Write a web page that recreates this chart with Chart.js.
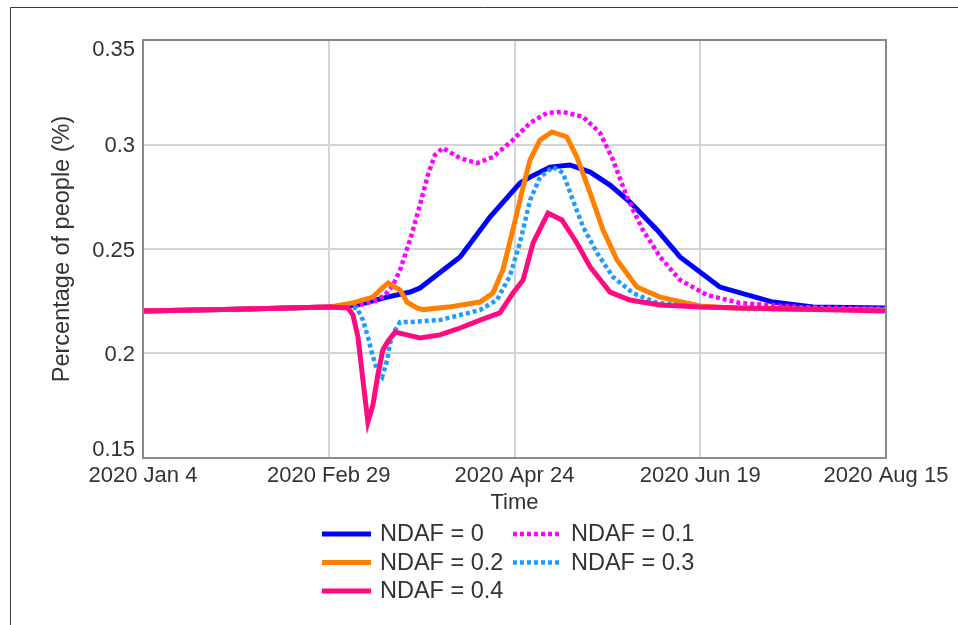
<!DOCTYPE html>
<html><head><meta charset="utf-8">
<script src="https://cdn.jsdelivr.net/npm/chart.js@4.4.1/dist/chart.umd.min.js"></script>
<style>html,body{margin:0;padding:0;background:#fff;}canvas{display:block;}</style>
</head><body>
<canvas id="c" width="958" height="625"></canvas>
<script>
// ---- data ----
const tickDays = [0, 56, 112, 168, 224];
const tickLabels = ['2020 Jan 4', '2020 Feb 29', '2020 Apr 24', '2020 Jun 19', '2020 Aug 15'];
const yTicks = [0.15, 0.2, 0.25, 0.3, 0.35];
const seriesNames = ['NDAF = 0', 'NDAF = 0.1', 'NDAF = 0.2', 'NDAF = 0.3', 'NDAF = 0.4'];

const ndaf0Days = [0, 28, 56, 64.5, 73.6, 80.5, 83.5, 95.6, 104.6, 113.7, 116.7, 122.7, 128.7, 134.8, 140.8, 146.8, 155, 161.9, 173.9, 189.9, 202, 224];
const ndaf0Vals = [0.2203, 0.2212, 0.2222, 0.2232, 0.2270, 0.2294, 0.2313, 0.2462, 0.2653, 0.2816, 0.2844, 0.2892, 0.2902, 0.2868, 0.2806, 0.2725, 0.2591, 0.2462, 0.2318, 0.2246, 0.2222, 0.2218];

const ndaf01Days = [0, 28, 56, 65.4, 69.9, 73.0, 75.4, 77.5, 80.5, 83.5, 85.9, 88.0, 90.4, 95.6, 100.7, 105.5, 111.5, 116.7, 121.8, 126.6, 132.7, 137.8, 141.7, 145.9, 150.7, 155.9, 161.9, 170, 179.9, 198, 224];
const ndaf01Vals = [0.2203, 0.2212, 0.2222, 0.2232, 0.2251, 0.2280, 0.2328, 0.2400, 0.2543, 0.2711, 0.2854, 0.2950, 0.2983, 0.2935, 0.2911, 0.2940, 0.3022, 0.3103, 0.3151, 0.3156, 0.3132, 0.3055, 0.2926, 0.2749, 0.2591, 0.2462, 0.2352, 0.2280, 0.2242, 0.2222, 0.2213];

const ndaf02Days = [0, 28, 56, 63.3, 69.3, 72.1, 73.9, 77.5, 79.6, 82.6, 84.4, 92, 101.6, 105.5, 108.5, 111.5, 114.6, 116.7, 119.7, 123.3, 127.8, 130.8, 134.8, 138.7, 142.9, 148.9, 155.9, 167.9, 180, 224];
const ndaf02Vals = [0.2203, 0.2212, 0.2222, 0.2242, 0.2270, 0.2313, 0.2337, 0.2304, 0.2246, 0.2218, 0.2210, 0.2222, 0.2246, 0.2289, 0.2400, 0.2591, 0.2797, 0.2926, 0.3022, 0.3060, 0.3036, 0.2940, 0.2768, 0.2591, 0.2447, 0.2318, 0.2270, 0.2227, 0.2215, 0.2208];

const ndaf03Days = [0, 28, 56, 64.5, 66.3, 67.8, 69.0, 70.5, 72.1, 73.6, 74.5, 76.0, 77.5, 80.5, 89.5, 101.6, 106.7, 110.6, 113.7, 116.7, 119.7, 123.6, 126.6, 129.6, 132.7, 136.9, 141.7, 147.7, 155, 168, 190, 224];
const ndaf03Vals = [0.2203, 0.2212, 0.2222, 0.2218, 0.2160, 0.2079, 0.2003, 0.1921, 0.1888, 0.1969, 0.2050, 0.2112, 0.2151, 0.2151, 0.2160, 0.2208, 0.2256, 0.2370, 0.2534, 0.2734, 0.2844, 0.2892, 0.2864, 0.2734, 0.2605, 0.2481, 0.2366, 0.2289, 0.2242, 0.2222, 0.2213, 0.2208];

const ndaf04Days = [0, 28, 56, 61.8, 63.3, 64.8, 66.3, 67.8, 69.3, 70.8, 72.3, 73.9, 76.0, 79.6, 83.5, 89.5, 95.6, 101.6, 107.6, 111.5, 114.6, 117.6, 122.1, 126.3, 130.8, 134.8, 140.8, 146.8, 155.9, 168, 224];
const ndaf04Vals = [0.2203, 0.2212, 0.2222, 0.2218, 0.2184, 0.2079, 0.1873, 0.1672, 0.1753, 0.1897, 0.2017, 0.2060, 0.2103, 0.2089, 0.2074, 0.2089, 0.2122, 0.2160, 0.2194, 0.2289, 0.2352, 0.2529, 0.2672, 0.2639, 0.2529, 0.2414, 0.2294, 0.2256, 0.2232, 0.2222, 0.2203];

// ---- build ----
const pts = (xs, ys) => xs.map((x, i) => ({x: x, y: ys[i]}));
const FONT = '"Liberation Sans", Arial, sans-serif';
const TEXT = '#333333';

const styles = [
  {color: '#0000ff', dash: [], width: 5, order: 5},
  {color: '#ff00ff', dash: [4, 3], width: 4.5, order: 4},
  {color: '#ff8000', dash: [], width: 5, order: 3},
  {color: '#1e9bff', dash: [4, 3], width: 4.5, order: 2},
  {color: '#ff0a80', dash: [], width: 5, order: 1}
];
const allData = [
  pts(ndaf0Days, ndaf0Vals), pts(ndaf01Days, ndaf01Vals), pts(ndaf02Days, ndaf02Vals),
  pts(ndaf03Days, ndaf03Vals), pts(ndaf04Days, ndaf04Vals)
];

const datasets = allData.map((d, i) => ({
  label: seriesNames[i],
  data: d,
  borderColor: styles[i].color,
  backgroundColor: styles[i].color,
  borderWidth: styles[i].width,
  borderDash: styles[i].dash,
  borderCapStyle: 'butt',
  borderJoinStyle: 'miter',
  pointRadius: 0,
  tension: 0,
  fill: false,
  order: styles[i].order
}));

const framePlugin = {
  id: 'frame',
  beforeDraw(chart) {
    // keep the end y tick labels inside the plot frame
    const s = chart.scales.y;
    const items = s.getLabelItems(chart.chartArea);
    const n = items.length;
    items.forEach((it, i) => {
      const t = it.options.translation;
      if (i === 0) t[1] -= 8;
      else if (i === n - 1) t[1] += 10;
      else t[1] += 1.5;
    });
  },
  afterDatasetsDraw(chart) {
    const {ctx, chartArea: a} = chart;
    ctx.save();
    ctx.strokeStyle = '#8a8a8a';
    ctx.lineWidth = 2;
    ctx.strokeRect(a.left, a.top, a.right - a.left, a.bottom - a.top);
    ctx.restore();
  },
  afterDraw(chart) {
    const ctx = chart.ctx;
    ctx.save();
    // outer frame (top and left)
    ctx.strokeStyle = '#3a3a3a';
    ctx.lineWidth = 1;
    ctx.beginPath();
    ctx.moveTo(10.5, 625);
    ctx.lineTo(10.5, 7.5);
    ctx.lineTo(958, 7.5);
    ctx.stroke();
    // legend: two columns
    const cols = [322, 513];
    const rows = [534, 562.5, 591];
    const lineLen = 49, gap = 9;
    ctx.font = '23.5px ' + FONT;
    ctx.textBaseline = 'middle';
    ctx.textAlign = 'left';
    chart.data.datasets.forEach((ds, i) => {
      const x = cols[i % 2], y = rows[Math.floor(i / 2)];
      ctx.strokeStyle = ds.borderColor;
      ctx.lineWidth = ds.borderWidth;
      ctx.setLineDash(ds.borderDash);
      ctx.lineCap = 'butt';
      ctx.beginPath();
      ctx.moveTo(x, y);
      ctx.lineTo(x + lineLen, y);
      ctx.stroke();
      ctx.setLineDash([]);
      ctx.fillStyle = TEXT;
      ctx.fillText(ds.label, x + lineLen + gap, y + 1);
    });
    ctx.restore();
  }
};

new Chart(document.getElementById('c'), {
  type: 'line',
  data: {datasets: datasets},
  options: {
    responsive: false,
    animation: false,
    devicePixelRatio: 1,
    layout: {padding: {top: 40, right: 72, bottom: 0, left: 0}},
    plugins: {legend: {display: false}, tooltip: {enabled: false}},
    scales: {
      x: {
        type: 'linear', min: 0, max: 224,
        afterBuildTicks: s => { s.ticks = tickDays.map(v => ({value: v})); },
        afterFit: s => { s.height = 167; },
        ticks: {
          callback: (v, i) => tickLabels[i],
          autoSkip: false, maxRotation: 0, padding: 5,
          color: TEXT, font: {family: FONT, size: 22}
        },
        grid: {color: '#d4d4d4', lineWidth: 2, drawTicks: false},
        border: {display: false},
        title: {display: true, text: 'Time', color: TEXT, font: {family: FONT, size: 22}, padding: {top: 0, bottom: 108.8}}
      },
      y: {
        min: 0.15, max: 0.35,
        afterBuildTicks: s => { s.ticks = yTicks.map(v => ({value: v})); },
        afterFit: s => { s.width = 143; },
        ticks: {
          callback: v => String(v),
          padding: 8, color: TEXT, font: {family: FONT, size: 22}
        },
        grid: {color: '#d4d4d4', lineWidth: 2, drawTicks: false},
        border: {display: false},
        title: {display: true, text: 'Percentage of people (%)', color: TEXT, font: {family: FONT, size: 23.5}, padding: {top: 48, bottom: 0}}
      }
    }
  },
  plugins: [framePlugin]
});
</script></body></html>
